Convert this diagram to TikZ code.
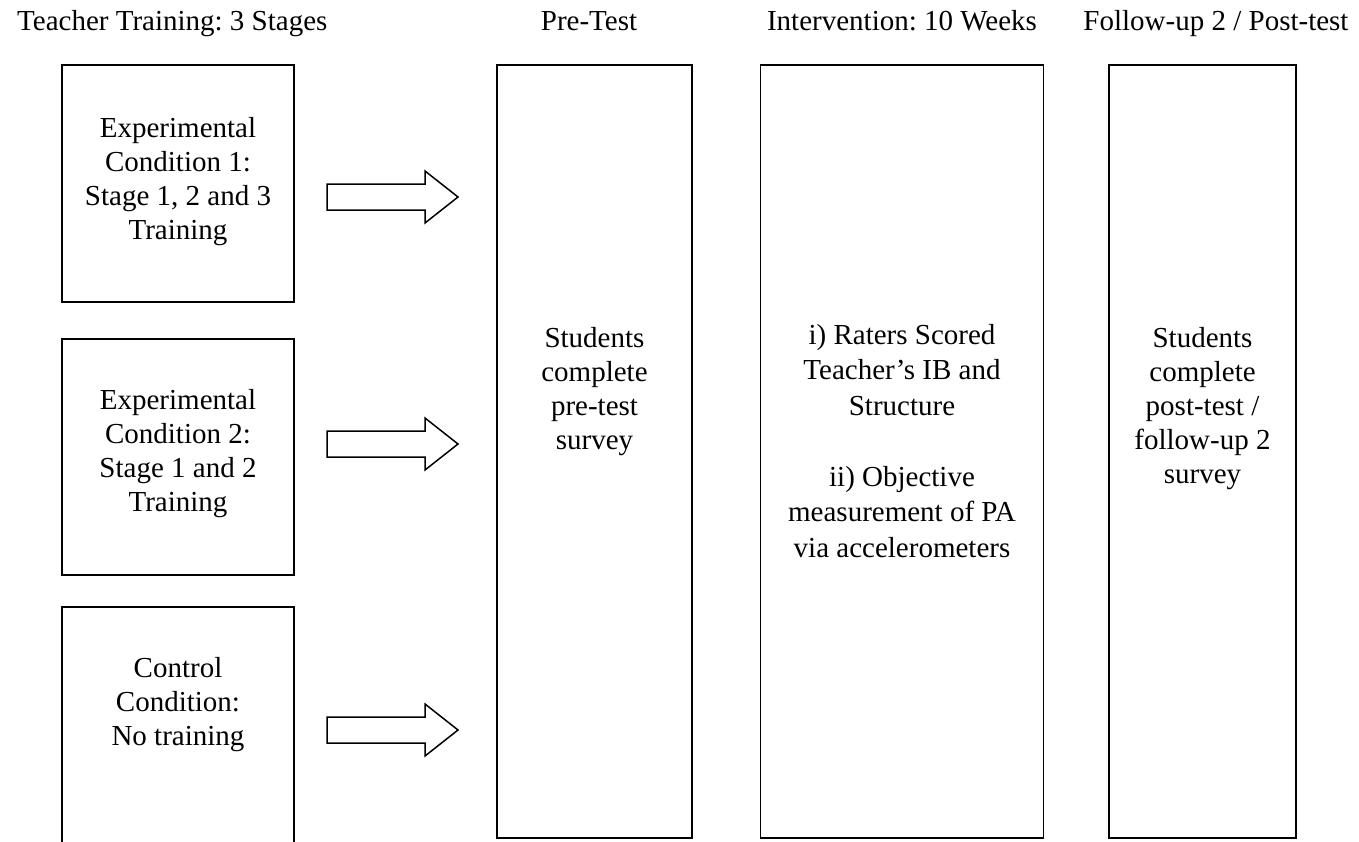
\documentclass[tikz,border=0pt]{standalone}
\usepackage{fontspec}
\setmainfont{Liberation Serif}
\frenchspacing
\begin{document}
\begin{tikzpicture}[x=1pt,y=-1pt,
  box/.style={draw=black, line width=1.6pt, minimum width=#1, inner sep=0pt},
  lbl/.style={inner sep=0pt, align=center, font=\fontsize{29pt}{34pt}\selectfont},
  hdr/.style={inner sep=0pt, anchor=base, font=\fontsize{29pt}{34pt}\selectfont},
  blockarrow/.style={draw=black, line width=1.5pt, fill=white, line join=miter}
]
\useasboundingbox (0,0) rectangle (1359,841);
% headers
\node[hdr, anchor=base west] (h1) at (17,30) {Teacher Training: 3 Stages};
\node[hdr] (h2) at (589,30) {Pre-Test};
\node[hdr] (h3) at (902,30) {Intervention: 10 Weeks};
\node[hdr] (h4) at (1216,30) {Follow-up 2 / Post-test};
% left boxes
\node[box=232pt, minimum height=237pt] (b1) at (178,183.5) {};
\node[box=232pt, minimum height=236pt] (b2) at (178,457) {};
\coordinate (b3bl) at (62,842);
\coordinate (b3tl) at (62,607);
\coordinate (b3tr) at (294,607);
\coordinate (b3br) at (294,842);
\draw[line width=1.6pt] (b3bl) -- (b3tl) -- (b3tr) -- (b3br);
% tall boxes
\node[box=195pt, minimum height=773pt] (pre) at (594.5,451.5) {};
\node[box=283pt, minimum height=773pt] (mid) at (902,451.5) {};
\node[box=187pt, minimum height=773pt] (post) at (1202.5,451.5) {};
% texts
\node[lbl] (t1) at (178,182) {Experimental\\Condition 1:\\Stage 1, 2 and 3\\Training};
\node[lbl] (t2) at (178,454) {Experimental\\Condition 2:\\Stage 1 and 2\\Training};
\node[lbl] (t3) at (178,705) {Control\\Condition:\\No training};
\node[lbl] (tpre) at (594.5,392) {Students\\complete\\pre-test\\survey};
\node[lbl, font=\fontsize{29pt}{35.5pt}\selectfont] (tmid) at (902,441) {i) Raters Scored\\Teacher’s IB and\\Structure\\[35.5pt]ii) Objective\\measurement of PA\\via accelerometers};
\node[lbl] (tpost) at (1202.5,409) {Students\\complete\\post-test /\\follow-up 2\\survey};
% block arrows
\foreach \n/\cy in {a1/197, a2/444, a3/730}{
  \coordinate (\n) at (327,\cy);
  \draw[blockarrow] (\n) ++(0,-13) -- ++(98,0) -- ++(0,-13) -- ++(33,26) -- ++(-33,26) -- ++(0,-13) -- ++(-98,0) -- cycle;
}
\end{tikzpicture}
\end{document}
